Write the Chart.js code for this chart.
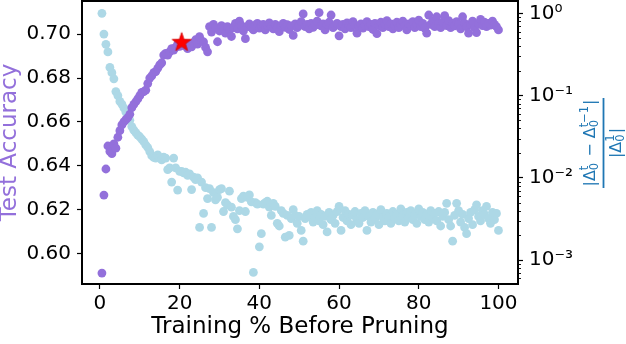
<!DOCTYPE html>
<html><head><meta charset="utf-8">
<script src="https://cdn.jsdelivr.net/npm/chart.js@4.4.1/dist/chart.umd.min.js"></script>
<style>html,body{margin:0;padding:0;background:#fff}#wrap{width:626px;height:344px}</style>
</head><body><div id="wrap"><canvas id="c" width="626" height="344"></canvas></div>
<script>
const trainingPct = [0.5,1,1.5,2,2.5,3,3.5,4,4.5,5,5.5,6,6.5,7,7.5,8,8.5,9,9.5,10,
10.5,11,11.5,12,12.5,13,13.5,14,14.5,15,15.5,16,16.5,17,17.5,18,18.5,19,19.5,20,
20.5,21,21.5,22,22.5,23,23.5,24,24.5,25,25.5,26,26.5,27,27.5,28,28.5,29,29.5,30,
30.5,31,31.5,32,32.5,33,33.5,34,34.5,35,35.5,36,36.5,37,37.5,38,38.5,39,39.5,40,
40.5,41,41.5,42,42.5,43,43.5,44,44.5,45,45.5,46,46.5,47,47.5,48,48.5,49,49.5,50,
50.5,51,51.5,52,52.5,53,53.5,54,54.5,55,55.5,56,56.5,57,57.5,58,58.5,59,59.5,60,
60.5,61,61.5,62,62.5,63,63.5,64,64.5,65,65.5,66,66.5,67,67.5,68,68.5,69,69.5,70,
70.5,71,71.5,72,72.5,73,73.5,74,74.5,75,75.5,76,76.5,77,77.5,78,78.5,79,79.5,80,
80.5,81,81.5,82,82.5,83,83.5,84,84.5,85,85.5,86,86.5,87,87.5,88,88.5,89,89.5,90,
90.5,91,91.5,92,92.5,93,93.5,94,94.5,95,95.5,96,96.5,97,97.5,98,98.5,99,99.5,100];

const testAccuracy = [0.591,0.6266,0.6385,0.649,0.6465,0.6455,0.65,0.648,0.653,0.656,
0.6586,0.66,0.661,0.662,0.6635,0.6665,0.668,0.6692,0.6705,0.672,
0.6735,0.6738,0.6745,0.6775,0.68,0.681,0.6825,0.683,0.6845,0.686,
0.687,0.6905,0.6913,0.6905,0.692,0.6935,0.6928,0.694,0.6955,0.6945,
0.696,0.695,0.6945,0.6935,0.6955,0.6943,0.696,0.6975,0.6955,0.6989,
0.697,0.6965,0.694,0.692,0.7035,0.701,0.7045,0.703,0.6966,0.7015,
0.704,0.7027,0.7005,0.7035,0.702,0.699,0.703,0.705,0.7025,0.706,
0.704,0.7015,0.698,0.7035,0.7048,0.703,0.702,0.7042,0.705,0.7028,
0.7038,0.7045,0.702,0.704,0.7052,0.7035,0.7025,0.7045,0.703,0.7012,
0.704,0.705,0.7032,0.7044,0.7022,0.7038,0.6995,0.7048,0.703,0.704,
0.7058,0.7093,0.7035,0.7045,0.7025,0.705,0.7032,0.7042,0.706,0.7099,
0.7038,0.7048,0.702,0.7045,0.7055,0.7088,0.703,0.704,0.705,0.6993,
0.7035,0.7045,0.7025,0.7052,0.7038,0.703,0.7058,0.7042,0.7005,0.7035,
0.7048,0.7028,0.704,0.7058,0.7035,0.7045,0.7022,0.705,0.7003,0.704,
0.7055,0.703,0.7045,0.7062,0.7035,0.7048,0.7025,0.704,0.7055,0.703,
0.7045,0.706,0.7038,0.702,0.7048,0.704,0.7058,0.703,0.7045,0.7065,
0.7035,0.705,0.7028,0.7005,0.7088,0.7045,0.706,0.7035,0.708,0.7048,
0.703,0.7055,0.7085,0.704,0.7062,0.703,0.705,0.7038,0.7058,0.7045,
0.7025,0.708,0.705,0.7035,0.7005,0.7045,0.706,0.703,0.7008,0.7048,
0.7068,0.704,0.7055,0.7035,0.705,0.7042,0.706,0.7045,0.7035,0.702];

const deltaRatio = [1.0,0.56,0.42,0.34,0.22,0.19,0.16,0.112,0.1,0.085,
0.079,0.071,0.063,0.056,0.05,0.042,0.038,0.0355,0.033,0.0316,
0.0295,0.0275,0.0251,0.0234,0.0209,0.0186,0.0178,0.0174,0.019,0.0174,
0.0166,0.0178,0.0174,0.0126,0.0132,0.0089,0.0174,0.0132,0.0071,0.012,
0.012,0.0115,0.0117,0.0107,0.0112,0.0072,0.0102,0.0095,0.01,0.0025,
0.0089,0.0037,0.0076,0.0056,0.0074,0.0025,0.0066,0.0054,0.0058,0.0072,
0.0074,0.0039,0.005,0.0047,0.0069,0.0044,0.0034,0.0031,0.0024,0.004,
0.0056,0.006,0.0039,0.0058,0.0062,0.0051,0.00071,0.005,0.0048,0.00145,
0.0021,0.0048,0.005,0.0052,0.0044,0.0035,0.0049,0.0045,0.0028,0.0026,
0.004,0.0037,0.0019,0.0035,0.002,0.0032,0.0041,0.0035,0.0028,0.0034,
0.0023,0.0017,0.0032,0.0036,0.0034,0.0038,0.0029,0.0033,0.004,0.003,
0.0036,0.0027,0.0034,0.0022,0.0038,0.0031,0.0035,0.0028,0.0039,0.0045,
0.0023,0.0033,0.004,0.003,0.0036,0.0027,0.0035,0.0039,0.0031,0.0028,
0.0037,0.0033,0.004,0.0023,0.0034,0.0029,0.0038,0.0032,0.0036,0.0027,
0.0041,0.0033,0.003,0.0037,0.0034,0.0028,0.0039,0.0032,0.0036,0.003,
0.0042,0.0035,0.0029,0.0038,0.0033,0.004,0.0031,0.0036,0.0028,0.0042,
0.0034,0.0038,0.0031,0.0036,0.0029,0.004,0.0033,0.0037,0.003,0.0039,
0.0026,0.0034,0.0038,0.0049,0.0031,0.0026,0.0017,0.0035,0.0049,0.004,
0.0029,0.0036,0.0025,0.0021,0.0032,0.0038,0.0027,0.0041,0.0047,0.0034,
0.003,0.004,0.0036,0.0045,0.0032,0.0028,0.0038,0.0031,0.0037,0.0023];

const bestX = [20.5];
const bestAcc = [0.6966];

const xTicks = [0,20,40,60,80,100];
const accTicks = [0.60,0.62,0.64,0.66,0.68,0.70];
const ratioTicks = [0.001,0.01,0.1,1];
const ratioTickLabels = ['10\u207B\u00B3','10\u207B\u00B2','10\u207B\u00B9','10\u2070'];

const FONT = '"DejaVu Sans", sans-serif';

// star marker image
const star = document.createElement('canvas');
star.width = 24; star.height = 24;
(function(){
  const g = star.getContext('2d');
  const cx = 12, cy = 12.8, R = 10, r = 4.0;
  g.beginPath();
  for (let k = 0; k < 10; k++) {
    const a = -Math.PI/2 + k*Math.PI/5;
    const rr = k % 2 ? r : R;
    const px = cx + rr*Math.cos(a), py = cy + rr*Math.sin(a);
    k ? g.lineTo(px,py) : g.moveTo(px,py);
  }
  g.closePath();
  g.fillStyle = '#ff0000'; g.fill();
  g.lineWidth = 0.8; g.strokeStyle = '#d00000'; g.stroke();
})();

function zeroPad(s){ s.paddingTop=0; s.paddingBottom=0; s.paddingLeft=0; s.paddingRight=0; }

const framePlugin = {
  id: 'frame',
  afterDraw(chart) {
    const ctx = chart.ctx, a = chart.chartArea;
    const y1 = chart.scales.y1;
    ctx.save();
    // minor log ticks
    ctx.strokeStyle = '#000'; ctx.lineWidth = 0.9;
    for (let e = -4; e <= 0; e++) {
      for (let m = 2; m <= 9; m++) {
        const v = m*Math.pow(10,e);
        if (v < y1.min || v > y1.max) continue;
        const py = Math.round(y1.getPixelForValue(v)) + 0.5;
        ctx.beginPath(); ctx.moveTo(a.right, py); ctx.lineTo(a.right+3, py); ctx.stroke();
      }
    }
    // frame
    ctx.lineWidth = 2; ctx.strokeStyle = '#000';
    ctx.strokeRect(a.left, a.top, a.right-a.left, a.bottom-a.top);
    // right axis title (fraction)
    const cx = 603.5, cy = 143;
    ctx.translate(cx, cy); ctx.rotate(-Math.PI/2);
    const col = '#1f77b4';
    ctx.fillStyle = col; ctx.strokeStyle = col;
    ctx.fillRect(-45, -0.9, 90, 1.8);
    const big = 16, small = 11.5;
    function segs(parts) {
      let w = 0;
      for (const p of parts) {
        if (p.t) { ctx.font = big+'px '+FONT; p.w = ctx.measureText(p.t).width; }
        else { ctx.font = small+'px '+FONT;
          p.w = Math.max(p.sub ? ctx.measureText(p.sub).width : 0, p.sup ? ctx.measureText(p.sup).width : 0) + 1; }
        w += p.w;
      }
      return w;
    }
    function drawSegs(parts, baseline) {
      const w = segs(parts);
      let x = -w/2;
      ctx.textBaseline = 'alphabetic'; ctx.textAlign = 'left';
      for (const p of parts) {
        if (p.t) { ctx.font = big+'px '+FONT; ctx.fillText(p.t, x, baseline); }
        else { ctx.font = small+'px '+FONT;
          if (p.sub) ctx.fillText(p.sub, x, baseline + 3.5);
          if (p.sup) ctx.fillText(p.sup, x, baseline - 7); }
        x += p.w;
      }
    }
    drawSegs([{t:'|\u0394'},{sub:'0',sup:'t'},{t:' \u2212 \u0394'},{sub:'0',sup:'t\u22121'},{t:'|'}], -9);
    drawSegs([{t:'|\u0394'},{sub:'0',sup:'1'},{t:'|'}], 17);
    ctx.restore();
  }
};

const chart = new Chart(document.getElementById('c'), {
  type: 'scatter',
  data: {
    datasets: [
      { label: 'best', data: bestX.map((x,i)=>({x, y: bestAcc[i]})), yAxisID: 'y',
        pointStyle: star, pointRadius: 10, order: 0 },
      { label: 'Test Accuracy', data: trainingPct.map((x,i)=>({x, y: testAccuracy[i]})), yAxisID: 'y',
        backgroundColor: '#9370DB', borderWidth: 0, pointRadius: 4.4, order: 1 },
      { label: 'ratio', data: trainingPct.map((x,i)=>({x, y: deltaRatio[i]})), yAxisID: 'y1',
        backgroundColor: '#ADD8E6', borderWidth: 0, pointRadius: 4.4, order: 2 }
    ]
  },
  options: {
    responsive: false, animation: false, devicePixelRatio: 1,
    layout: { autoPadding: false, padding: { top: 1, left: 0, right: 0, bottom: 0 } },
    plugins: { legend: { display: false }, tooltip: { enabled: false } },
    scales: {
      x: {
        type: 'linear', min: -4.5, max: 104.9,
        afterBuildTicks: s => { s.ticks = xTicks.map(v => ({ value: v })); },
        afterFit: s => { s.height = 60; zeroPad(s); },
        grid: { display: true, drawOnChartArea: false, drawTicks: true, tickLength: 5, tickColor: '#000', tickWidth: 1.2 },
        border: { display: false },
        ticks: { autoSkip: false, maxRotation: 0, padding: 3, color: '#000', font: { family: FONT, size: 20 },
          callback: v => String(v) },
        title: { display: true, text: 'Training % Before Pruning', color: '#000',
          font: { family: FONT, size: 23 }, padding: { top: 0, bottom: 3 } }
      },
      y: {
        type: 'linear', position: 'left', min: 0.586, max: 0.7152,
        afterBuildTicks: s => { s.ticks = accTicks.map(v => ({ value: v })); },
        afterFit: s => { s.width = 82; zeroPad(s); },
        grid: { display: true, drawOnChartArea: false, drawTicks: true, tickLength: 5, tickColor: '#000', tickWidth: 1.2 },
        border: { display: false },
        ticks: { padding: 6, color: '#000', font: { family: FONT, size: 20 }, callback: v => Number(v).toFixed(2) },
        title: { display: true, text: 'Test Accuracy', color: '#9370DB',
          font: { family: FONT, size: 23, lineHeight: 0.75 }, padding: { top: 1.3, bottom: 0 } }
      },
      y1: {
        type: 'logarithmic', position: 'right', min: Math.pow(10,-3.29), max: Math.pow(10,0.15),
        afterBuildTicks: s => { s.ticks = ratioTicks.map(v => ({ value: v })); },
        afterFit: s => { s.width = 108; zeroPad(s); },
        grid: { display: true, drawOnChartArea: false, drawTicks: true, tickLength: 5, tickColor: '#000', tickWidth: 1.2 },
        border: { display: false },
        ticks: { padding: 6, color: '#000', font: { family: FONT, size: 20 },
          callback: v => { const i = ratioTicks.findIndex(t => Math.abs(t - v) / t < 1e-6); return i >= 0 ? ratioTickLabels[i] : ''; } }
      }
    }
  },
  plugins: [framePlugin]
});
</script></body></html>
